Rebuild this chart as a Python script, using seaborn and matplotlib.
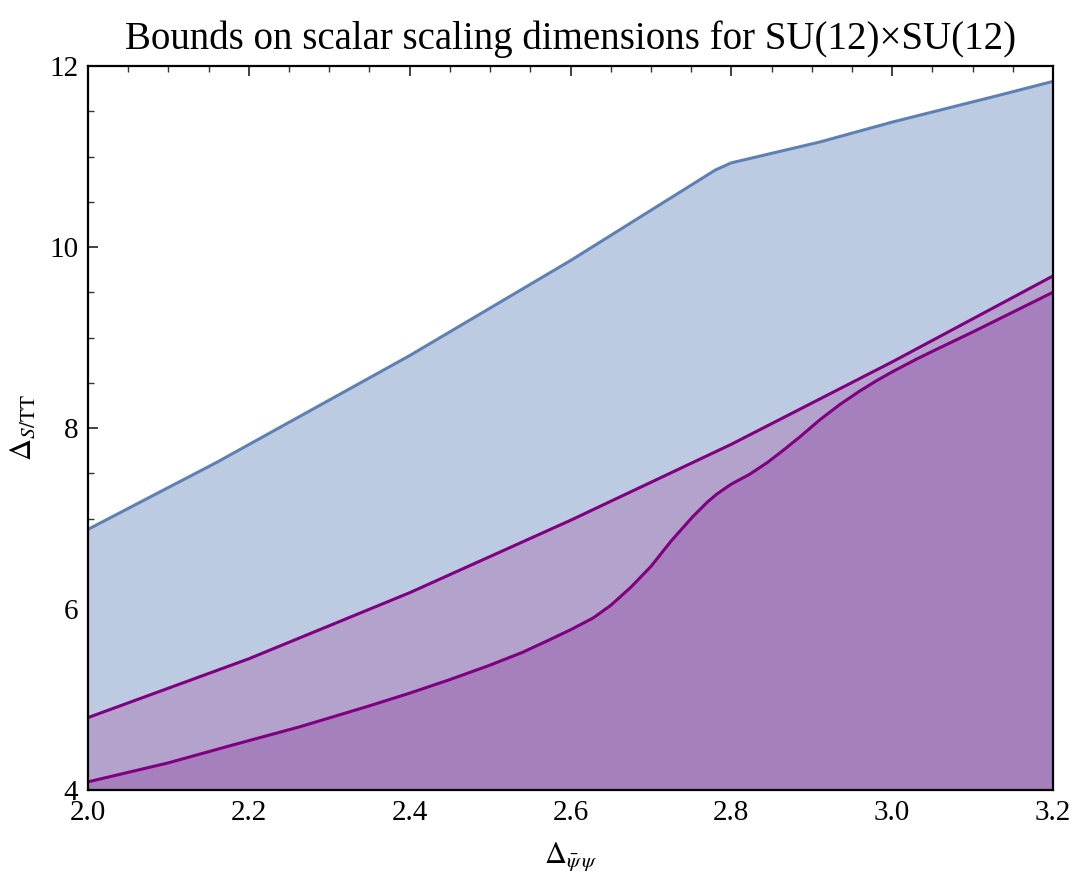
import numpy as np
import pandas as pd
import matplotlib
matplotlib.use("Agg")
import matplotlib.pyplot as plt
from matplotlib.ticker import MultipleLocator
import seaborn as sns

# Upper bound on the singlet scalar (blue curve)
x_upper = [2.0, 2.16, 2.4, 2.6, 2.78, 2.8, 2.91, 3.0, 3.13, 3.2]
y_upper = [6.88, 7.62, 8.80, 9.85, 10.85, 10.93, 11.16, 11.38, 11.67, 11.83]

# Middle bound (purple, upper)
x_mid = [2.0, 2.2, 2.4, 2.6, 2.8, 3.0, 3.2]
y_mid = [4.80, 5.45, 6.18, 6.98, 7.82, 8.73, 9.68]

# Lower bound (purple, lower)
x_low = [2.0, 2.1, 2.177, 2.264, 2.35, 2.4, 2.45, 2.5, 2.54, 2.574, 2.6, 2.628,
         2.65, 2.675, 2.70, 2.725, 2.752, 2.77, 2.782, 2.80, 2.823, 2.845,
         2.864, 2.885, 2.91, 2.935, 2.96, 2.98, 3.0, 3.03, 3.06, 3.1, 3.15, 3.2]
y_low = [4.09, 4.30, 4.49, 4.70, 4.93, 5.07, 5.22, 5.38, 5.52, 5.66, 5.77, 5.90,
         6.04, 6.24, 6.47, 6.75, 7.02, 7.18, 7.27, 7.38, 7.49, 7.62,
         7.75, 7.90, 8.09, 8.26, 8.41, 8.52, 8.62, 8.76, 8.89, 9.06, 9.28, 9.50]

x_ticks = [2.0, 2.2, 2.4, 2.6, 2.8, 3.0, 3.2]
y_ticks = [4, 6, 8, 10, 12]

sns.set_theme(style="ticks")
plt.rcParams["font.family"] = ["Liberation Serif", "DejaVu Serif"]
plt.rcParams["mathtext.fontset"] = "stix"
plt.rcParams["text.color"] = "black"
plt.rcParams["axes.labelcolor"] = "black"
plt.rcParams["xtick.labelcolor"] = "black"
plt.rcParams["ytick.labelcolor"] = "black"

fig = plt.figure(figsize=(10.77, 8.81), dpi=100)
ax = fig.add_axes([88 / 1077, 1 - 790 / 881, 965 / 1077, 724 / 881])

ymin = 4.0
grid = np.linspace(2.0, 3.2, 800)
up = np.interp(grid, x_upper, y_upper)
mid = np.interp(grid, x_mid, y_mid)
low = np.interp(grid, x_low, y_low)

ax.fill_between(grid, ymin, up, color="#BCCBE1", linewidth=0)
ax.fill_between(grid, ymin, mid, color="#B3A2CC", linewidth=0)
ax.fill_between(grid, ymin, low, color="#A680BC", linewidth=0)

df_up = pd.DataFrame({"x": x_upper, "y": y_upper})
df_mid = pd.DataFrame({"x": x_mid, "y": y_mid})
df_low = pd.DataFrame({"x": x_low, "y": y_low})
sns.lineplot(data=df_up, x="x", y="y", ax=ax, color="#5E81B5", linewidth=2.2)
sns.lineplot(data=df_mid, x="x", y="y", ax=ax, color="#800080", linewidth=2.2)
sns.lineplot(data=df_low, x="x", y="y", ax=ax, color="#800080", linewidth=2.2)

ax.set_xlim(2.0, 3.2)
ax.set_ylim(4, 12)
ax.set_xticks(x_ticks)
ax.set_xticklabels([f"{v:.1f}" for v in x_ticks])
ax.set_yticks(y_ticks)
ax.set_yticklabels([str(v) for v in y_ticks])
ax.xaxis.set_minor_locator(MultipleLocator(0.05))
ax.yaxis.set_minor_locator(MultipleLocator(0.5))

for s in ax.spines.values():
    s.set_visible(True)
    s.set_linewidth(1.6)
    s.set_color("black")

ax.tick_params(which="both", direction="in", top=True, right=True,
               color="#333333", labelsize=21, pad=7)
ax.tick_params(which="major", length=7, width=1.3)
ax.tick_params(which="minor", length=4, width=1.0)

ax.set_xlabel(r"$\Delta_{\bar{\psi}\,\psi}$", fontsize=22, labelpad=10)
ax.set_ylabel(r"$\Delta_{S/\mathrm{TT}}$", fontsize=22, labelpad=8)
ax.set_title("Bounds on scalar scaling dimensions for SU(12)×SU(12)",
             fontsize=28, pad=12)

fig.savefig("out.png", dpi=100)
